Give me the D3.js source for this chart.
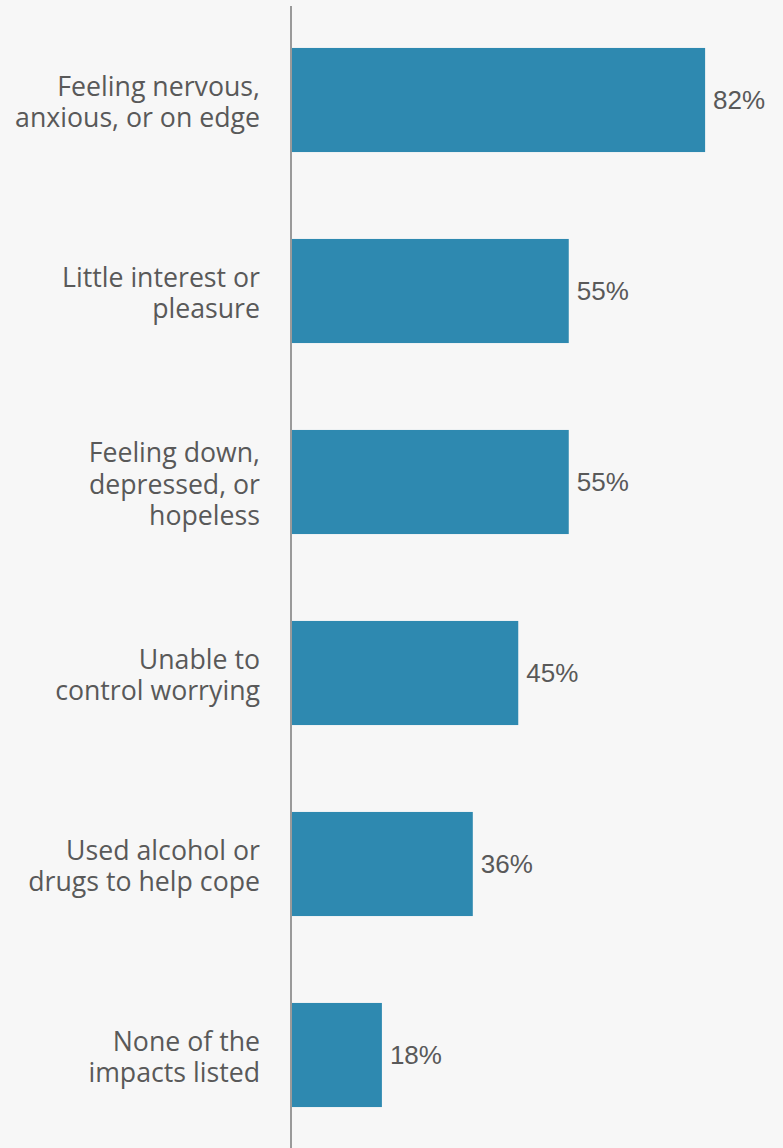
<!DOCTYPE html>
<html>
<head>
<meta charset="utf-8">
<script src="https://cdn.jsdelivr.net/npm/d3@7"></script>
<style>
  html, body { margin: 0; padding: 0; background: #f7f7f7; }
  svg { display: block; }
</style>
</head>
<body>
<div id="chart"></div>
<script>
// Share of respondents reporting each mental-health impact
const categories = [
  ["Feeling nervous,", "anxious, or on edge"],
  ["Little interest or", "pleasure"],
  ["Feeling down,", "depressed, or", "hopeless"],
  ["Unable to", "control worrying"],
  ["Used alcohol or", "drugs to help cope"],
  ["None of the", "impacts listed"]
];
const values = [82, 55, 55, 45, 36, 18];
const valueLabels = ["82%", "55%", "55%", "45%", "36%", "18%"];

const width = 783, height = 1148;
const axisX = 291;

const svg = d3.select("#chart").append("svg")
  .attr("width", width)
  .attr("height", height);

svg.append("rect").attr("width", width).attr("height", height).attr("fill", "#f7f7f7");

const ids = categories.map((d, i) => i);

const x = d3.scaleLinear().domain([0, 100]).range([axisX, axisX + 505]);
const y = d3.scaleBand().domain(ids).range([4.5, 1150.5])
  .paddingInner(0.455).paddingOuter(0.2275);

// bars
svg.append("g").selectAll("rect")
  .data(ids)
  .join("rect")
  .attr("x", x(0))
  .attr("y", i => y(i))
  .attr("width", i => x(values[i]) - x(0))
  .attr("height", y.bandwidth())
  .attr("fill", "#2e89b0");

// value labels
svg.append("g").selectAll("text")
  .data(ids)
  .join("text")
  .attr("x", i => x(values[i]) + 8)
  .attr("y", i => y(i) + y.bandwidth() / 2)
  .attr("dy", "0.35em")
  .attr("font-family", "'Liberation Sans', Arial, sans-serif")
  .attr("font-size", 26)
  .attr("fill", "#595959")
  .text(i => valueLabels[i]);

// category labels, wrapped onto several lines and centred on each bar
const lineH = 31.7;
const labels = svg.append("g").selectAll("text")
  .data(ids)
  .join("text")
  .attr("text-anchor", "end")
  .attr("font-family", "'Open Sans', sans-serif")
  .attr("font-size", 26.7)
  .attr("fill", "#595959")
  .attr("y", i => y(i) + y.bandwidth() / 2 - (categories[i].length - 1) * lineH / 2 + 11.5);

labels.each(function(i) {
  d3.select(this).selectAll("tspan")
    .data(categories[i])
    .join("tspan")
    .attr("x", 260)
    .attr("dy", (d, j) => j === 0 ? 0 : lineH)
    .text(d => d);
});

// vertical axis line
const yAxis = d3.axisLeft(y).tickSize(0).tickFormat("");
const axisG = svg.append("g").attr("transform", `translate(${axisX},0)`).call(yAxis);
axisG.select(".domain").remove();
axisG.append("line")
  .attr("x1", 0).attr("x2", 0)
  .attr("y1", 6).attr("y2", height)
  .attr("stroke", "#9a9a9a")
  .attr("stroke-width", 2);
</script>
</body>
</html>
